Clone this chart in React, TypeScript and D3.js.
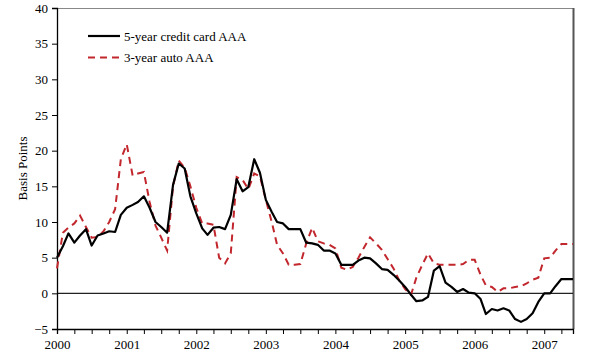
import React, { useEffect, useRef } from 'react';
import * as d3 from 'd3';

// monthly spreads, Jan 2000 - Jun 2007 (basis points)
const creditCard = [
  5.0, 6.6, 8.4, 7.1, 8.1, 9.0, 6.7, 8.1, 8.4, 8.7, 8.6, 11.0,
  12.0, 12.4, 12.8, 13.6, 12.0, 10.0, 9.3, 8.5, 15.2, 18.2, 17.5, 13.6,
  11.2, 9.1, 8.2, 9.2, 9.3, 9.0, 11.0, 16.0, 14.3, 14.9, 18.8, 16.9,
  13.1, 11.4, 10.0, 9.8, 9.0, 9.0, 9.0, 7.1, 7.0, 6.8, 6.0, 6.0,
  5.6, 4.0, 4.0, 4.0, 4.6, 5.0, 4.9, 4.2, 3.4, 3.3, 2.6, 1.8,
  0.9, -0.2, -1.1, -1.0, -0.5, 3.2, 3.8, 1.5, 0.9, 0.2, 0.6, 0.1,
  0.0, -0.8, -2.9, -2.2, -2.4, -2.1, -2.4, -3.6, -4.0, -3.6, -2.8, -1.2,
  0.0, 0.0, 1.0, 2.0, 2.0, 2.0
];

const autoLoan = [
  3.5, 8.5, 9.2, 9.8, 10.9, 9.3, 7.8, 7.9, 8.7, 10.0, 11.8, 18.8,
  20.9, 16.5, 16.8, 17.0, 12.8, 9.5, 7.8, 6.0, 15.0, 18.6, 17.6, 15.0,
  12.0, 9.8, 9.8, 9.6, 5.0, 4.2, 5.6, 16.3, 15.9, 14.6, 16.8, 16.4,
  13.1, 10.0, 6.8, 5.6, 4.0, 4.0, 4.1, 7.0, 9.2, 7.3, 7.0, 6.8,
  6.3, 3.6, 3.3, 3.7, 5.0, 6.5, 7.85, 7.0, 6.1, 4.8, 3.5, 1.8,
  0.6, -0.2, 2.2, 4.0, 5.6, 4.2, 4.0, 4.0, 4.0, 4.0, 4.1, 4.7,
  4.7, 2.6, 1.1, 0.9, 0.2, 0.7, 0.7, 0.9, 1.0, 1.4, 1.9, 2.2,
  4.9, 5.0, 6.0, 6.9, 6.9, 6.9
];

const seriesNames = ['5-year credit card AAA', '3-year auto AAA'];
const yTicks = [-5, 0, 5, 10, 15, 20, 25, 30, 35, 40];

const FONT = '"Liberation Serif", "Times New Roman", serif';
const RED = '#c1272d';

function App() {
  const svgRef = useRef<SVGSVGElement>(null);
  const width = 600;
  const height = 360;

  useEffect(() => {
    const svg = d3.select(svgRef.current);
    svg.selectAll('*').remove();

    const margin = { top: 8, right: 27, bottom: 31, left: 57 };

    const start = new Date(2000, 0, 1);
    const months = creditCard.map((_, i) => d3.timeMonth.offset(start, i));

    const x = d3.scaleTime()
      .domain([months[0], months[months.length - 1]])
      .range([margin.left, width - margin.right]);

    const y = d3.scaleLinear()
      .domain([-5, 40])
      .range([height - margin.bottom, margin.top]);

    // frame (top + right are grey)
    svg.append('line')
      .attr('x1', margin.left).attr('x2', width - margin.right)
      .attr('y1', margin.top + 0.5).attr('y2', margin.top + 0.5)
      .attr('stroke', '#888').attr('stroke-width', 1);
    svg.append('line')
      .attr('x1', width - margin.right + 0.5).attr('x2', width - margin.right + 0.5)
      .attr('y1', margin.top).attr('y2', height - margin.bottom)
      .attr('stroke', '#555').attr('stroke-width', 2);

    // zero line
    svg.append('line')
      .attr('x1', margin.left).attr('x2', width - margin.right)
      .attr('y1', y(0)).attr('y2', y(0))
      .attr('stroke', '#222').attr('stroke-width', 1.2);

    // y axis
    const yAxis = svg.append('g')
      .attr('transform', `translate(${margin.left},0)`)
      .call(d3.axisLeft(y).tickValues(yTicks).tickSize(5).tickPadding(4));
    yAxis.select('.domain').attr('stroke', '#000').attr('stroke-width', 1.3);
    yAxis.selectAll('text').attr('font-family', FONT).attr('font-size', 13).attr('fill', '#000');

    // x axis, quarterly ticks, labels on January
    const xAxis = svg.append('g')
      .attr('transform', `translate(0,${height - margin.bottom})`)
      .call(d3.axisBottom(x)
        .ticks(d3.timeMonth.every(3))
        .tickSize(5)
        .tickPadding(6)
        .tickFormat((d: any) => (d.getMonth() === 0 ? d3.timeFormat('%Y')(d) : '')));
    xAxis.select('.domain').attr('stroke', '#000').attr('stroke-width', 1.3);
    xAxis.selectAll('text').attr('font-family', FONT).attr('font-size', 13).attr('fill', '#000');

    // y label
    svg.append('text')
      .attr('transform', `translate(27,${(margin.top + height - margin.bottom) / 2}) rotate(-90)`)
      .attr('text-anchor', 'middle')
      .attr('font-family', FONT)
      .attr('font-size', 13)
      .text('Basis Points');

    const line = d3.line<number>()
      .x((d, i) => x(months[i]))
      .y(d => y(d));

    svg.append('path')
      .datum(autoLoan)
      .attr('fill', 'none')
      .attr('stroke', RED)
      .attr('stroke-width', 2)
      .attr('stroke-dasharray', '7,5')
      .attr('d', line);

    svg.append('path')
      .datum(creditCard)
      .attr('fill', 'none')
      .attr('stroke', '#000')
      .attr('stroke-width', 2.2)
      .attr('stroke-linejoin', 'round')
      .attr('d', line);

    // legend
    const legend = svg.append('g').attr('transform', 'translate(88,36)');
    seriesNames.forEach((name, i) => {
      const row = legend.append('g').attr('transform', `translate(0,${i * 21.5})`);
      row.append('line')
        .attr('x1', 0).attr('x2', 32)
        .attr('y1', 0).attr('y2', 0)
        .attr('stroke', i === 0 ? '#000' : RED)
        .attr('stroke-width', i === 0 ? 2.2 : 2)
        .attr('stroke-dasharray', i === 0 ? null : '7,5');
      row.append('text')
        .attr('x', 36)
        .attr('y', 4.5)
        .attr('font-family', FONT)
        .attr('font-size', 13)
        .text(name);
    });
  }, []);

  return (
    <svg ref={svgRef} width={width} height={height}
      style={{ position: 'absolute', left: 0, top: 0, background: '#fff' }} />
  );
}

export default App;
